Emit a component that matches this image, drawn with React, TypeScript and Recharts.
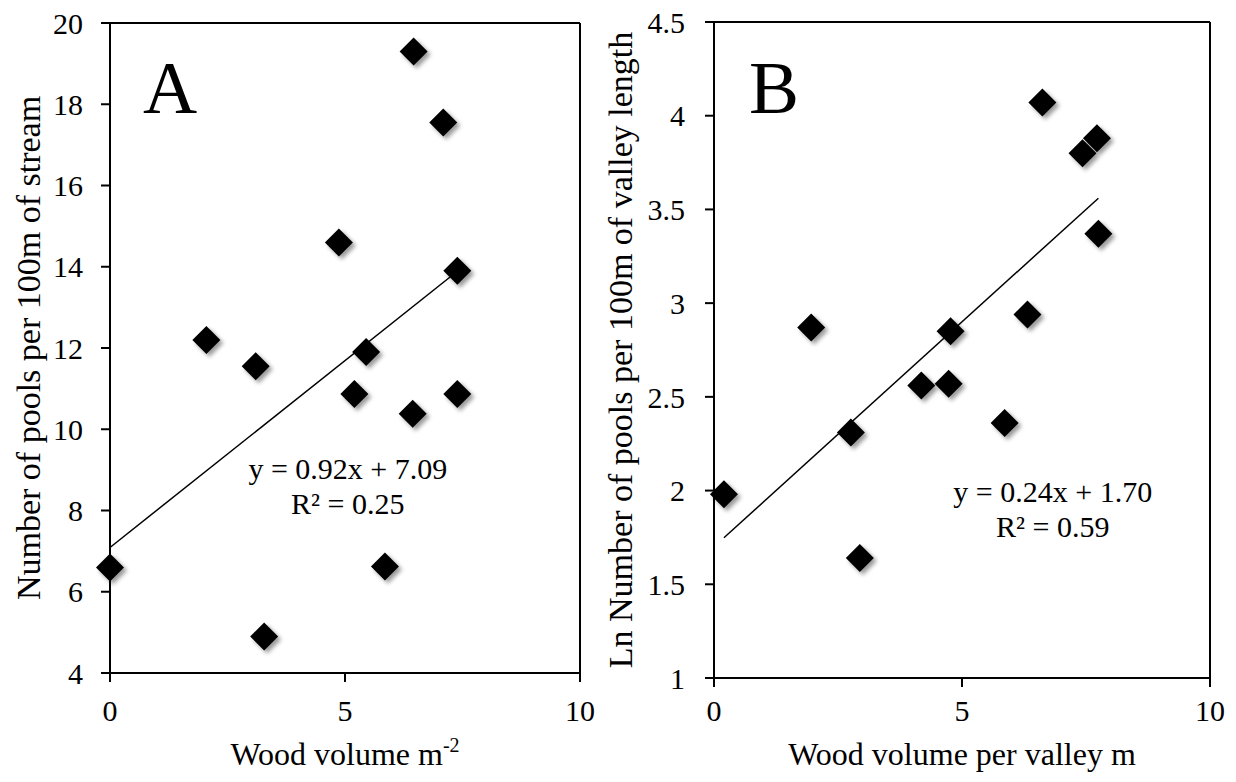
import { ReferenceDot, ReferenceLine, Scatter, ScatterChart, XAxis, YAxis } from "recharts";

const FONT = '"Liberation Serif", "Times New Roman", serif';

// Panel A: pools per 100 m of stream vs wood volume
const woodA = [0, 2.05, 3.1, 3.28, 4.87, 5.2, 5.45, 5.85, 6.46, 6.44, 7.09, 7.39, 7.39];
const poolsA = [6.6, 12.2, 11.55, 4.9, 14.6, 10.87, 11.9, 6.62, 19.3, 10.38, 17.55, 13.9, 10.87];
const fitA = { slope: 0.92, intercept: 7.09, r2: 0.25 };
const yTicksA = [4, 6, 8, 10, 12, 14, 16, 18, 20];

// Panel B: ln pools per 100 m of valley vs wood volume per valley m
const woodB = [0.2, 1.96, 2.76, 2.94, 4.18, 4.73, 4.77, 5.86, 6.32, 6.62, 7.43, 7.72, 7.75];
const lnPoolsB = [1.98, 2.87, 2.31, 1.64, 2.56, 2.57, 2.85, 2.36, 2.94, 4.07, 3.8, 3.88, 3.37];
const fitB = { slope: 0.24, intercept: 1.7, r2: 0.59 };
const yTicksB = [1, 1.5, 2, 2.5, 3, 3.5, 4, 4.5];

const xTicks = [0, 5, 10];

const axisLine = { stroke: "#000", strokeWidth: 2 };
const tickFont = { fill: "#000", fontSize: 30, fontFamily: FONT };

function Diamond(props: any) {
  const { cx, cy, filterId } = props;
  if (cx == null || cy == null) return null;
  const r = 14;
  return (
    <polygon
      points={`${cx},${cy - r} ${cx + r},${cy} ${cx},${cy + r} ${cx - r},${cy}`}
      fill="#000"
      filter={`url(#${filterId})`}
    />
  );
}

interface PanelProps {
  id: string;
  letter: string;
  letterAt: [number, number];
  xs: number[];
  ys: number[];
  fit: { slope: number; intercept: number; r2: number };
  fitAt: [number, number];
  yDomain: [number, number];
  yTicks: number[];
  width: number;
  top: number;
  right: number;
  yAxisWidth: number;
  xAxisHeight: number;
  yTickMargin: number;
  xTickMargin: number;
  yTitle: string;
  yTitleX: number;
  yTitleSize: number;
  xTitle: React.ReactNode;
  xTitleSize: number;
}

function Panel(p: PanelProps) {
  const data = p.xs.map((x, i) => ({ x, y: p.ys[i] }));
  const xMin = Math.min(...p.xs);
  const xMax = Math.max(...p.xs);
  const f = (x: number) => p.fit.intercept + p.fit.slope * x;
  const eq = `y = ${p.fit.slope.toFixed(2)}x + ${p.fit.intercept.toFixed(2)}`;
  const r2 = `R² = ${p.fit.r2.toFixed(2)}`;

  const yTitle = (lp: any) => {
    const vb = lp.viewBox;
    const cx = vb.x + p.yTitleX;
    const cy = vb.y + vb.height / 2;
    return (
      <text
        x={cx}
        y={cy}
        transform={`rotate(-90, ${cx}, ${cy})`}
        textAnchor="middle"
        dominantBaseline="central"
        fontFamily={FONT}
        fontSize={p.yTitleSize}
        fill="#000"
      >
        {p.yTitle}
      </text>
    );
  };

  const xTitle = (lp: any) => {
    const vb = lp.viewBox;
    return (
      <text
        x={vb.x + vb.width / 2}
        y={vb.y + vb.height - 17}
        textAnchor="middle"
        fontFamily={FONT}
        fontSize={p.xTitleSize}
        fill="#000"
      >
        {p.xTitle}
      </text>
    );
  };

  const letterLabel = (lp: any) => {
    const vb = lp.viewBox;
    return (
      <text x={vb.x} y={vb.y} textAnchor="middle" fontFamily={FONT} fontSize={75} fill="#000">
        {p.letter}
      </text>
    );
  };

  // regression equation and R² centred under the anchor point
  const fitLabel = (lp: any) => {
    const vb = lp.viewBox;
    return (
      <text textAnchor="middle" fontFamily={FONT} fontSize={30} fill="#000">
        <tspan x={vb.x} y={vb.y}>{eq}</tspan>
        <tspan x={vb.x} y={vb.y + 35}>{r2}</tspan>
      </text>
    );
  };

  return (
    <ScatterChart width={p.width} height={782} margin={{ top: p.top, right: p.right, bottom: 0, left: 0 }}>
      <defs>
        <filter id={p.id} x="-60%" y="-60%" width="220%" height="220%">
          <feDropShadow dx="3" dy="3" stdDeviation="2" floodColor="#000" floodOpacity="0.4" />
        </filter>
      </defs>
      <XAxis
        type="number"
        dataKey="x"
        domain={[0, 10]}
        ticks={xTicks}
        interval={0}
        height={p.xAxisHeight}
        axisLine={axisLine}
        tickLine={axisLine}
        tickSize={9}
        tickMargin={p.xTickMargin}
        tick={tickFont}
        label={xTitle}
      />
      <YAxis
        type="number"
        dataKey="y"
        domain={p.yDomain}
        ticks={p.yTicks}
        interval={0}
        width={p.yAxisWidth}
        axisLine={axisLine}
        tickLine={axisLine}
        tickSize={9}
        tickMargin={p.yTickMargin}
        tick={tickFont}
        label={yTitle}
      />
      <ReferenceLine y={p.yDomain[1]} stroke="#000" strokeWidth={2} />
      <ReferenceLine x={10} stroke="#000" strokeWidth={2} />
      <ReferenceLine
        segment={[
          { x: xMin, y: f(xMin) },
          { x: xMax, y: f(xMax) },
        ]}
        stroke="#000"
        strokeWidth={1.5}
      />
      <Scatter
        data={data}
        isAnimationActive={false}
        shape={(sp: any) => <Diamond {...sp} filterId={p.id} />}
      />
      <ReferenceDot x={p.letterAt[0]} y={p.letterAt[1]} r={0} fill="none" stroke="none" label={letterLabel} />
      <ReferenceDot x={p.fitAt[0]} y={p.fitAt[1]} r={0} fill="none" stroke="none" label={fitLabel} />
    </ScatterChart>
  );
}

export default function App() {
  return (
    <div style={{ position: "fixed", left: 0, top: 0, width: 1236, height: 782, background: "#fff" }}>
      <div style={{ position: "absolute", left: 0, top: 0 }}>
        <Panel
          id="shadowA"
          letter="A"
          letterAt={[1.28, 17.78]}
          xs={woodA}
          ys={poolsA}
          fit={fitA}
          fitAt={[5.06, 8.78]}
          yDomain={[4, 20]}
          yTicks={yTicksA}
          width={595}
          top={23}
          right={15}
          yAxisWidth={110}
          xAxisHeight={109}
          yTickMargin={18}
          xTickMargin={18}
          yTitle="Number of pools per 100m of stream"
          yTitleX={28}
          yTitleSize={34}
          xTitle={
            <>
              Wood volume m
              <tspan dy={-13} fontSize={20}>
                -2
              </tspan>
            </>
          }
          xTitleSize={32}
        />
      </div>
      <div style={{ position: "absolute", left: 595, top: 0 }}>
        <Panel
          id="shadowB"
          letter="B"
          letterAt={[1.21, 4.014]}
          xs={woodB}
          ys={lnPoolsB}
          fit={fitB}
          fitAt={[6.83, 1.94]}
          yDomain={[1, 4.5]}
          yTicks={yTicksB}
          width={641}
          top={22}
          right={26}
          yAxisWidth={119}
          xAxisHeight={104}
          yTickMargin={20}
          xTickMargin={13}
          yTitle="Ln Number of pools per 100m of valley length"
          yTitleX={25}
          yTitleSize={34}
          xTitle="Wood volume per valley m"
          xTitleSize={32}
        />
      </div>
    </div>
  );
}
